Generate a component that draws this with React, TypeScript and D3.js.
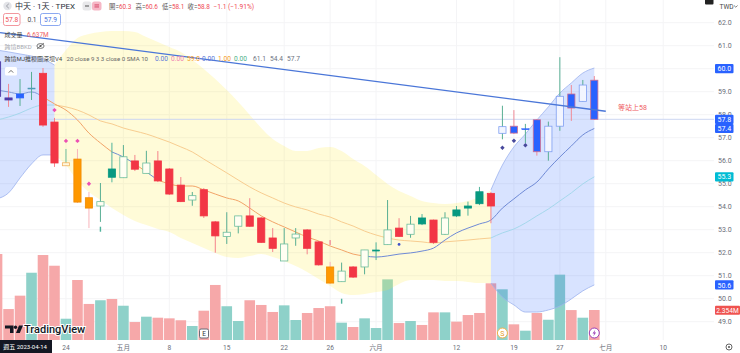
import React from "react";
import * as d3 from "d3";

const firstIndex = -4;
const opens = [60.3,58.73,58.73,59.16,59.80,57.68,55.91,56.07,54.39,54.03,55.28,55.26,55.99,55.45,55.99,55.64,54.94,54.29,54.74,53.34,52.70,53.15,53.60,53.51,52.64,51.64,52.64,52.99,52.47,51.38,50.74,51.38,51.38,52.07,52.35,53.07,52.80,53.25,53.42,52.80,53.60,53.94,54.13,54.58,57.19,57.50,57.36,57.78,56.39,57.50,58.90,58.58,59.50];
const closes = [58.8,58.64,58.90,59.12,57.55,55.90,55.78,54.20,53.94,54.22,55.64,56.17,55.63,55.90,55.12,54.55,54.22,54.48,53.60,52.73,52.89,53.60,53.15,52.45,52.19,52.38,52.81,52.19,51.47,50.68,51.20,50.94,52.12,52.12,52.99,52.71,53.24,53.51,52.45,53.51,53.86,54.03,54.65,54.03,57.48,57.20,57.39,56.39,57.50,58.80,58.29,59.29,57.80];
const highs = [60.6,59.34,59.55,59.86,60.03,57.86,56.51,56.51,54.64,55.03,56.78,56.68,56.25,56.43,56.42,55.68,55.29,54.64,54.81,53.38,53.76,53.60,54.37,53.55,53.07,53.07,53.07,53.03,52.51,51.60,51.57,51.42,52.12,52.45,54.29,53.50,53.60,53.68,53.44,53.76,54.03,54.22,54.86,54.64,58.39,58.20,57.60,57.81,57.70,60.50,59.29,59.51,59.68];
const lows = [58.1,58.34,58.38,58.64,57.47,55.73,55.77,54.16,53.07,53.34,55.06,55.25,55.55,55.45,55.07,54.51,54.20,54.04,53.51,52.00,52.38,52.84,53.12,52.42,52.03,51.64,52.30,51.93,51.44,50.64,50.73,50.90,51.06,51.68,52.34,52.68,52.65,53.20,52.38,52.77,53.55,53.61,54.07,53.28,56.93,57.16,56.77,56.22,56.00,57.30,57.73,58.57,57.77];
const kinds = ["p","p","n","l","r","r","c","o","o","w","t","w","r","w","r","r","r","w","r","r","w","w","r","r","r","w","w","r","r","o","w","r","w","m","w","r","w","t","r","w","t","t","t","r","u","b","v","b","u","u","b","u","b"];
const volumes = [6.75,2.43,3.48,5.28,6.67,5.83,1.67,4.71,2.83,3.12,3.22,2.69,1.41,1.83,1.75,1.70,1.55,1.10,2.30,4.32,2.65,1.49,3.12,2.75,2.20,2.72,1.57,2.12,2.51,2.65,1.36,1.02,1.70,0.94,4.76,1.33,1.49,1.18,2.17,2.17,1.44,1.96,2.12,4.45,3.98,1.23,0.73,2.12,1.59,5.13,2.35,1.75,2.354];
const volumeUp = [0,0,0,1,0,0,1,0,0,1,0,1,0,1,0,0,0,1,0,0,1,1,0,0,0,1,1,0,0,0,1,0,1,1,1,0,1,0,0,1,0,0,0,0,1,0,1,0,1,1,0,1,0];
const upperBand = [60.81,60.73,60.64,60.55,60.42,60.16,60.81,61.33,61.51,61.60,61.64,61.64,61.60,61.38,61.16,60.94,60.73,60.38,59.99,59.55,59.07,58.55,57.99,57.42,56.94,56.64,56.42,56.42,56.55,56.60,56.42,56.07,55.77,55.38,54.99,54.68,54.47,54.25,54.16,54.12,54.16,54.25,54.42,54.73,55.81,56.60,57.16,57.77,58.34,58.94,59.38,59.81,60.03];
const lowerBand = [54.34,54.60,55.25,55.86,56.25,56.25,55.81,55.12,54.64,54.29,53.94,53.64,53.38,53.20,53.03,52.90,52.64,52.42,52.20,51.99,51.81,51.77,51.86,51.94,51.81,51.64,51.42,51.16,50.86,50.55,50.25,50.16,50.20,50.29,50.38,50.64,50.81,50.81,50.81,50.77,50.77,50.73,50.68,50.68,50.07,49.73,49.42,49.42,49.51,49.68,49.99,50.34,50.60];
const fastMA = [59.07,58.99,58.90,58.99,58.77,58.47,58.20,57.77,57.20,56.77,56.38,56.16,55.86,55.51,55.16,54.99,54.90,54.90,54.73,54.55,54.38,54.25,53.94,53.60,53.34,53.12,52.90,52.68,52.51,52.29,52.12,51.94,51.86,51.81,51.86,51.94,51.99,52.07,52.20,52.55,52.86,53.07,53.25,53.42,53.94,54.34,54.73,55.07,55.64,56.16,56.64,57.12,57.40];
const slowMA = [57.77,57.90,58.07,58.29,58.42,58.42,58.34,58.20,57.99,57.73,57.60,57.42,57.29,57.16,56.99,56.81,56.60,56.38,56.07,55.77,55.47,55.16,54.86,54.60,54.38,54.16,53.99,53.86,53.68,53.55,53.34,53.16,52.94,52.77,52.64,52.55,52.51,52.47,52.42,52.47,52.51,52.55,52.60,52.64,52.86,53.03,53.29,53.60,53.90,54.25,54.60,54.99,55.30];
const priceTicks = [49,50,51,52,53,54,55,56,57,58,59,61,62];
const gridPrices = [49,50,51,52,53,54,55,56,57,58,59,60,61,62];
const dateTicks: [number,string][] = [[2,"24"],[7,"五月"],[11,"8"],[16,"15"],[21,"22"],[25,"26"],[29,"六月"],[36,"12"],[41,"19"],[45,"27"],[49,"七月"],[54,"10"]];
const pinkDiamonds: [number,number][] = [[1,58.20],[2,56.86],[3,56.86],[4,55.00]];
const darkDiamonds: [number,number][] = [[40,56.56],[41,56.87],[42,56.67]];
const trendIndex = [-3.74,49];
const trendPrice = [61.57,58.15];
const lastPrice = 57.8;
const axisBoxes: [string,number,string][] = [["60.0",60.0,"#2962ff"],["57.8",57.8,"#2962ff"],["57.4",57.4,"#2962ff"],["55.3",55.3,"#00bcd4"],["50.6",50.6,"#2962ff"]];
const legendValues: [string,number,string][] = [["0.00",155,"#5b78d8"],["0.00",171,"#ef7fb0"],["59.0",187,"#f59a23"],["0.00",202,"#5b78d8"],["1.00",218,"#f59a23"],["0.00",234,"#4caf87"],["61.1",253,"#6b7280"],["54.4",270,"#6b7280"],["57.7",287,"#6b7280"]];

const FONT = "Roboto, 'Noto Sans CJK TC', sans-serif";
const RED = "#f23645", TEAL = "#089981", ORANGE = "#ff9800", BLUE = "#2962ff";
const GREEN_EDGE = "#6dbd9c", BLUE_EDGE = "#7f9ff2";

const styleOf: Record<string,{fill:string,stroke:string,wick:string}> = {
  r: {fill:RED,stroke:RED,wick:"#f5848c"},
  t: {fill:TEAL,stroke:TEAL,wick:"#4fb39b"},
  m: {fill:TEAL,stroke:TEAL,wick:"#4fb39b"},
  o: {fill:ORANGE,stroke:"#f08a00",wick:"#f8b4bb"},
  w: {fill:"#fffef2",stroke:GREEN_EDGE,wick:"#58ae93"},
  c: {fill:"#fff8df",stroke:"#f3b35f",wick:"#6dbd9c"},
  b: {fill:BLUE,stroke:"#cf6f92",wick:"#f08a96"},
  u: {fill:"#f2f5ff",stroke:BLUE_EDGE,wick:"#58ae93"},
  v: {fill:BLUE,stroke:BLUE,wick:"#58ae93"},
  p: {fill:"#4e3aa8",stroke:"#4e3aa8",wick:"#f08a96"},
  n: {fill:BLUE,stroke:BLUE,wick:"#58ae93"},
  l: {fill:"#4f9bb5",stroke:"#4f9bb5",wick:"#58ae93"},
};

const x = d3.scaleLinear().domain([-4,48]).range([-2.94,594.3]);
const y = d3.scaleLinear().domain([49,61]).range([321.7,45.7]);
const vol = d3.scaleLinear().domain([0,1]).range([340,327.26]);

type Row = {i:number,u:number,l:number,f:number,s:number};
const rows: Row[] = upperBand.map((u,k)=>({i:k+firstIndex,u,l:lowerBand[k],f:fastMA[k],s:slowMA[k]}));
const area = d3.area<Row>().x(d=>x(d.i)).y0(d=>y(d.l)).y1(d=>y(d.u)).curve(d3.curveMonotoneX);
const upLine = d3.line<Row>().x(d=>x(d.i)).y(d=>y(d.u)).curve(d3.curveMonotoneX);
const loLine = d3.line<Row>().x(d=>x(d.i)).y(d=>y(d.l)).curve(d3.curveMonotoneX);
const fLine = d3.line<Row>().x(d=>x(d.i)).y(d=>y(d.f)).curve(d3.curveMonotoneX);
const sLine = d3.line<Row>().x(d=>x(d.i)).y(d=>y(d.s)).curve(d3.curveMonotoneX);
const slice = (a:number,b:number)=>rows.filter(r=>r.i>=a&&r.i<=b);

const fastSegs: [number,number,string][] = [[-4,0,"#7f9bd8"],[0,6,"#f2a468"],[6,8,"#6f8fd0"],[8,9,"#f2a468"],[9,10,"#6f8fd0"],[10,28,"#f2a468"],[28,48,"#6f8ad6"]];
const slowSegs: [number,number,string][] = [[-4,1,"#a5d8ec"],[1,39,"#f8cd90"],[39,48,"#a5d8ec"]];

const diamond = (cx:number,cy:number,r:number)=>`M${cx},${cy-r}L${cx+r},${cy}L${cx},${cy+r}L${cx-r},${cy}Z`;

export default function App(){
  return (
    <svg width={740} height={353} viewBox="0 0 740 353" style={{position:"absolute",left:0,top:0,background:"#fff",fontFamily:FONT}}>
      {/* grid */}
      {gridPrices.map(p=><line key={p} x1={0} x2={714} y1={y(p)} y2={y(p)} stroke="#f4f4f6" strokeWidth={1}/>)}
      {dateTicks.map(([i])=><line key={i} x1={x(i)} x2={x(i)} y1={0} y2={340} stroke="#f4f4f6" strokeWidth={1}/>)}

      {/* volume */}
      {volumes.map((v,k)=>{
        const i=k+firstIndex;
        return <rect key={k} x={x(i)-5.3} width={10.6} y={vol(v)} height={340-vol(v)} fill={volumeUp[k]?"#8ed1c9":"#f6a8a9"}/>;
      })}

      {/* bands */}
      <path d={area(slice(-4,1))!} fill="#2962ff" fillOpacity={0.18}/>
      <path d={area(slice(1,39))!} fill="#ffeb3b" fillOpacity={0.2}/>
      <path d={area(slice(39,48))!} fill="#2962ff" fillOpacity={0.18}/>
      {[slice(-4,1),slice(39,48)].map((s,k)=><g key={k}>
        <path d={upLine(s)!} fill="none" stroke="#9db3ee" strokeWidth={0.8}/>
        <path d={loLine(s)!} fill="none" stroke="#9db3ee" strokeWidth={0.8}/>
      </g>)}
      {/* price line */}
      <line x1={0} x2={714} y1={y(lastPrice)} y2={y(lastPrice)} stroke="#ccd6f2" strokeWidth={1}/>

      {/* moving averages */}
      {slowSegs.map(([a,b,c],k)=><path key={k} d={sLine(slice(a,b))!} fill="none" stroke={c} strokeWidth={1}/>)}
      {fastSegs.map(([a,b,c],k)=><path key={k} d={fLine(slice(a,b))!} fill="none" stroke={c} strokeWidth={1}/>)}

      {/* candles */}
      {opens.map((o,k)=>{
        const i=k+firstIndex; const c=closes[k]; const s=styleOf[kinds[k]];
        const top=y(Math.max(o,c)), bot=y(Math.min(o,c)); const cx=x(i);
        const h=Math.max(bot-top,1);
        return <g key={k}>
          <line x1={cx} x2={cx} y1={y(highs[k])} y2={y(lows[k])} stroke={s.wick} strokeWidth={1}/>
          <rect x={cx-3.6} width={7.2} y={top} height={h} fill={s.fill} stroke={s.stroke} strokeWidth={h<=2?0.5:0.8}/>
        </g>;
      })}

      {/* markers */}
      {pinkDiamonds.map(([i,p],k)=><path key={k} d={diamond(x(i),y(p),2.2)} fill="#ec4fb3"/>)}
      {darkDiamonds.map(([i,p],k)=><path key={k} d={diamond(x(i),y(p),2.2)} fill="#47489c"/>)}
      <circle cx={x(31)} cy={y(52.36)} r={1.4} fill="#3f51c8"/>
      <rect x={x(25)-0.8} y={y(52.55)} width={1.6} height={5} fill="#f29aa1"/>
      <rect x={x(26)-0.7} y={y(50.0)} width={1.4} height={5} fill="#4fb39b"/>
      <rect x={x(5)-0.7} y={y(53.13)} width={1.4} height={5} fill="#4fb39b"/>

      {/* trend line */}
      <line x1={x(trendIndex[0])} y1={y(trendPrice[0])} x2={x(trendIndex[1])} y2={y(trendPrice[1])} stroke="#4a76d8" strokeWidth={1.3}/>
      <text x={618} y={110} fontSize={7} fill="#ef5d62">等站上58</text>

      {/* event badges */}
      <rect x={199.5} y={329} width={9} height={9} rx={1.5} fill="#fff" stroke="#6a6d78" strokeWidth={1}/>
      <text x={204} y={336} fontSize={6.5} textAnchor="middle" fill="#333">E</text>
      <circle cx={x(40)} cy={333} r={5} fill="#fff" stroke="#f2b049" strokeWidth={1}/>
      <text x={x(40)} y={335.5} fontSize={7} textAnchor="middle" fill="#e59a22">S</text>
      <circle cx={x(48)} cy={333} r={5} fill="#fff" stroke="#9c3fb6" strokeWidth={1}/>
      <path d={`M${x(48)+1},${329.8}L${x(48)-1.8},${333.5}H${x(48)-0.1}L${x(48)-1},${336.2}L${x(48)+1.8},${332.4}H${x(48)+0.1}Z`} fill="#9c3fb6"/>

      {/* watermark */}
      <g fill="#131722">
        <path d="M5,325.5H13.5V333H10V328.5H5Z"/>
        <circle cx={15.5} cy={327.2} r={1.7}/>
        <path d="M16,333L19,325.5H23L19.8,333Z"/>
        <text x={24} y={333.3} fontSize={11} fontWeight={500} fill="#131722" stroke="#fff" strokeWidth={2} paintOrder="stroke">TradingView</text>
      </g>

      {/* header */}
      <circle cx={7.5} cy={6} r={4.2} fill="#e3e4e8"/>
      <path d="M8.8,3.8L6.4,6L8.8,8.2" fill="none" stroke="#8a8d96" strokeWidth={0.8}/>
      <text x={15} y={9} fontSize={8} fill="#2a2e39">中天 · 1天 · TPEX</text>
      <rect x={82.5} y={1.5} width={9} height={9} rx={2.5} fill="#e8e8ea"/>
      <rect x={85} y={5.5} width={4} height={1} fill="#555"/>
      <rect x={92} y={1.5} width={9.5} height={9} rx={2.5} fill="#f6b7c6"/>
      <rect x={94.5} y={4.5} width={4.5} height={0.9} fill="#d33a5c"/>
      <rect x={94.5} y={6.5} width={4.5} height={0.9} fill="#d33a5c"/>
      {([["開",60.3,109],["高",60.6,135.5],["低",58.1,162],["收",58.8,187.5]] as [string,number,number][]).map(([t,v,px])=>
        <text key={t} x={px} y={8.6} fontSize={6.4} fill="#ef4a55"><tspan fill="#555">{t}=</tspan>{v.toFixed(1)}</text>)}
      <text x={213.5} y={8.6} fontSize={6.6} fill="#ef4a55">−1.1 (−1.91%)</text>

      <rect x={3.5} y={13.5} width={16.5} height={12} rx={2} fill="#fff" stroke="#ef7d86" strokeWidth={0.8}/>
      <text x={11.7} y={22} fontSize={6.6} textAnchor="middle" fill="#ef4a55">57.8</text>
      <text x={32} y={22} fontSize={6.6} textAnchor="middle" fill="#444">0.1</text>
      <rect x={40.5} y={13.5} width={20} height={12} rx={2} fill="#fff" stroke="#6f93ee" strokeWidth={0.8}/>
      <text x={50.5} y={22} fontSize={6.6} textAnchor="middle" fill="#3f6fe0">57.9</text>

      <text x={4.5} y={36.6} fontSize={6} fill="#444">成交量</text>
      <text x={27} y={36.6} fontSize={6.4} fill="#ef5d62">6.637M</text>
      <text x={4.5} y={48.5} fontSize={6} fill="#a9abb2">跨境BBKD</text>
      <ellipse cx={40.5} cy={46} rx={3.6} ry={2.4} fill="none" stroke="#555" strokeWidth={0.8}/>
      <circle cx={40.5} cy={46} r={1.1} fill="#555"/>
      <line x1={37} y1={49} x2={44} y2={43} stroke="#555" strokeWidth={0.7}/>
      <text x={4.5} y={60.5} fontSize={6} fill="#444">跨境MJ推模圖深坝V4</text>
      <text x={66.5} y={60.5} fontSize={6.1} fill="#666">20 close 9 3 3 close 0 SMA 10</text>
      {legendValues.map(([t,px,c],k)=><text key={k} x={px} y={60.5} fontSize={6.6} fill={c}>{t}</text>)}
      <rect x={5} y={67} width={12} height={8.5} rx={1.5} fill="#fff"/>
      <path d="M8.8,72.6L11,70.4L13.2,72.6" fill="none" stroke="#444" strokeWidth={0.8}/>

      {/* right axis */}
      <text x={719.5} y={8.5} fontSize={6.6} fill="#444">TWD</text>
      <path d="M734,5.5L735.8,7.2L737.6,5.5" fill="none" stroke="#666" strokeWidth={0.8}/>
      <rect x={705} y={-1} width={8.5} height={5.5} rx={1} fill="#222"/>
      {priceTicks.map(p=><text key={p} x={724.8} y={y(p)+2.6} fontSize={7} textAnchor="middle" fill="#6a6d78">{p.toFixed(1)}</text>)}
      {axisBoxes.map(([t,p,c])=><g key={t}>
        <rect x={715} y={y(p)-4.6} width={18.5} height={9.2} rx={1} fill={c}/>
        <text x={724.3} y={y(p)+2.6} fontSize={7} textAnchor="middle" fill="#fff">{t}</text>
      </g>)}
      <rect x={715} y={vol(2.354)-4.2} width={25} height={9} rx={1} fill="#ef5350"/>
      <text x={727.5} y={vol(2.354)+2.8} fontSize={6.6} textAnchor="middle" fill="#fff">2.354M</text>

      {/* date axis */}
      {dateTicks.map(([i,t])=><text key={i} x={x(i)} y={349.5} fontSize={6.6} textAnchor="middle" fill="#6a6d78">{t}</text>)}
      <rect x={0} y={340} width={52} height={13} fill="#131722"/>
      <text x={3.2} y={349.3} fontSize={6} fill="#fff">週五 2023-04-14</text>
      <circle cx={729} cy={347} r={3} fill="none" stroke="#555" strokeWidth={0.9}/>
      <circle cx={729} cy={347} r={1} fill="#555"/>
    </svg>
  );
}
